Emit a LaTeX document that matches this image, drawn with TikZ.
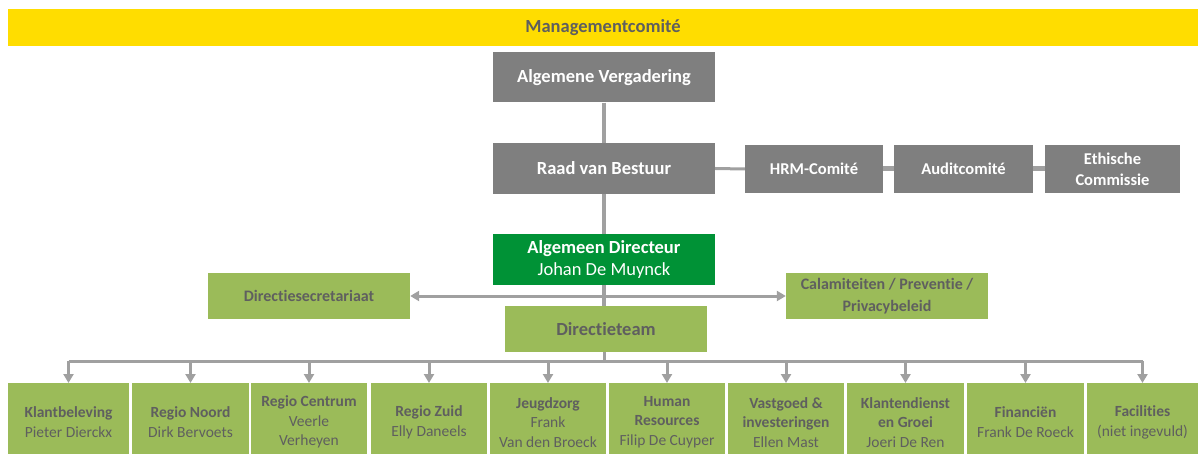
\documentclass[tikz,border=0pt]{standalone}
\usepackage{fontspec}
\setmainfont{Carlito}[Ligatures={NoCommon,NoContextual}]
\usetikzlibrary{arrows.meta}
\definecolor{ybar}{RGB}{255,221,0}
\definecolor{boxgray}{RGB}{127,127,127}
\definecolor{linegray}{RGB}{160,160,160}
\definecolor{dgreen}{RGB}{0,146,54}
\definecolor{lgreen}{RGB}{155,187,89}
\definecolor{txtgray}{RGB}{95,95,95}
\newcommand{\fs}[2]{\fontsize{#1}{#2}\selectfont}
\tikzset{
  gbox/.style={fill=boxgray, text=white, inner sep=0pt, align=center, font=\bfseries\fs{18.5}{22}},
  cbox/.style={fill=boxgray, text=white, inner sep=0pt, align=center, font=\bfseries\fs{16.5}{21}},
  dbox/.style={fill=dgreen, text=white, inner sep=0pt, align=center, font=\fs{18.5}{22}},
  lbox/.style={fill=lgreen, text=txtgray, inner sep=0pt, align=center, font=\bfseries\fs{16}{22}},
  bbox/.style={fill=lgreen, text=txtgray, inner sep=0pt, align=center, font=\fs{15.5}{19.5}, anchor=north, minimum height=78pt},
  conn/.style={draw=linegray, line width=3.5pt},
  arr/.style={draw=linegray, line width=3pt, -{Triangle[width=10pt,length=9pt]}},
  darr/.style={draw=linegray, line width=3pt, {Triangle[width=10pt,length=9pt]}-{Triangle[width=10pt,length=9pt]}}
}
\begin{document}
\begin{tikzpicture}[x=1pt,y=-1pt]
\clip (0,0) rectangle (1198,454);
\fill[white] (0,0) rectangle (1198,454);
% management bar
\node[fill=ybar, text=txtgray, inner sep=0pt, minimum width=1190pt, minimum height=37pt, font=\bfseries\fs{18.5}{22}] (mc) at (603,27.5) {Managementcomité};
% gray boxes
\node[gbox, minimum width=222pt, minimum height=50pt] (av) at (604,77.5) {Algemene Vergadering};
\node[gbox, minimum width=222pt, minimum height=51pt] (rvb) at (604,168.5) {Raad van Bestuur};
\node[cbox, minimum width=138pt, minimum height=48pt] (hrm) at (814,169) {HRM-Comité};
\node[cbox, minimum width=139pt, minimum height=48pt] (aud) at (963.5,169) {Auditcomité};
\node[cbox, minimum width=135pt, minimum height=48pt] (eth) at (1112.5,169) {Ethische\\Commissie};
% director
\node[dbox, minimum width=222pt, minimum height=51pt] (ad) at (604,259.5) {\textbf{Algemeen Directeur}\\Johan De Muynck};
\node[lbox, minimum width=202pt, minimum height=46pt] (ds) at (309,296) {Directiesecretariaat};
\node[lbox, minimum width=202pt, minimum height=46pt] (cal) at (887,296) {Calamiteiten / Preventie /\\Privacybeleid};
\node[lbox, minimum width=202pt, minimum height=46pt, font=\bfseries\fs{18.5}{22}] (dt) at (606,329) {Directieteam};
% bottom boxes
\node[bbox, minimum width=121pt] (b1) at (68.5,383) {\textbf{Klantbeleving}\\Pieter Dierckx};
\node[bbox, minimum width=117pt] (b2) at (190.5,383) {\textbf{Regio Noord}\\Dirk Bervoets};
\node[bbox, minimum width=116pt] (b3) at (309,383) {\textbf{Regio Centrum}\\Veerle\\Verheyen};
\node[bbox, minimum width=116pt] (b4) at (429,383) {\textbf{Regio Zuid}\\Elly Daneels};
\node[bbox, minimum width=116pt] (b5) at (548,383) {\textbf{Jeugdzorg}\\Frank\\Van den Broeck};
\node[bbox, minimum width=116pt] (b6) at (667,383) {\textbf{Human}\\\textbf{Resources}\\Filip De Cuyper};
\node[bbox, minimum width=116pt] (b7) at (786,383) {\textbf{Vastgoed \&}\\\textbf{investeringen}\\Ellen Mast};
\node[bbox, minimum width=117pt] (b8) at (905.5,383) {\textbf{Klantendienst}\\\textbf{en Groei}\\Joeri De Ren};
\node[bbox, minimum width=117pt] (b9) at (1025.5,383) {\textbf{Financiën}\\Frank De Roeck};
\node[bbox, minimum width=111pt] (b10) at (1142.5,383) {\textbf{Facilities}\\(niet ingevuld)};
% connectors
\draw[conn] (av.south) -- (rvb.north);
\draw[conn] (rvb.south) -- (ad.north);
\draw[conn, line width=3pt] (rvb.east) -- (hrm.west);
\draw[conn, line width=5pt] (hrm.east) -- (aud.west);
\draw[conn, line width=5pt] (aud.east) -- (eth.west);
\draw[darr] (ds.east) -- (cal.west);
\draw[conn] (ad.south) -- (ad.south |- dt.north);
\coordinate (bus) at (604,361);
\draw[conn, line width=3pt] (ad.south |- dt.south) -- (bus);
\draw[conn, line width=3pt] (b1.north |- bus) -- (b10.north |- bus);
\foreach \b in {b1,b2,b3,b4,b5,b6,b7,b8,b9,b10}{
  \draw[arr] (\b.north |- bus) -- (\b.north);
}
\end{tikzpicture}
\end{document}
